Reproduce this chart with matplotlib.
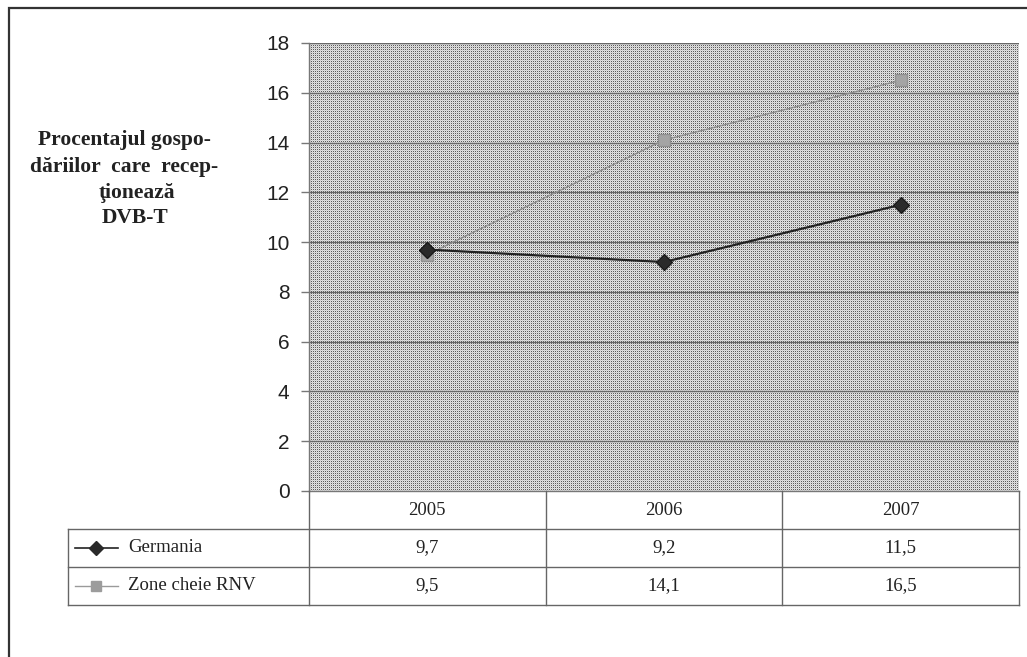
import numpy as np
import matplotlib
matplotlib.use("Agg")
import matplotlib.pyplot as plt
from matplotlib.patches import Rectangle

years = ["2005", "2006", "2007"]
germania = [9.7, 9.2, 11.5]
zone_rnv = [9.5, 14.1, 16.5]
series_names = ["Germania", "Zone cheie RNV"]
yticks = [0, 2, 4, 6, 8, 10, 12, 14, 16, 18]

W, H = 1027, 657
fig = plt.figure(figsize=(W / 100, H / 100), dpi=100)

# pixel box of the plot area and the data table
px_left, px_right, px_top, px_bottom = 309, 1019, 43, 491
tab_left, tab_bottom = 68, 605


def fbox(l, t, r, b):
    return [l / W, 1 - b / H, (r - l) / W, (b - t) / H]


# outer frame (runs off the right and bottom of the page)
fig.patches.append(Rectangle((9 / W, -0.1), 1.2, 1 - 8 / H + 0.1,
                             transform=fig.transFigure, fill=False,
                             edgecolor="#333333", linewidth=1.6))

ax = fig.add_axes(fbox(px_left, px_top, px_right, px_bottom))
x = np.arange(len(years))
ax.set_xlim(-0.5, len(years) - 0.5)
ax.set_ylim(0, 18)

# halftone-like dotted fill for the plot area
ph, pw = px_bottom - px_top, px_right - px_left
ii, jj = np.indices((ph, pw))
tex = np.where((ii % 2 == 0) & (jj % 2 == 0), 0.36, 0.88)
tex = np.where((ii % 2 == 1) & (jj % 2 == 1), 0.80, tex)
ax.imshow(tex, cmap="gray", vmin=0, vmax=1, extent=(-0.5, len(years) - 0.5, 0, 18),
          aspect="auto", interpolation="nearest", zorder=0)

for v in yticks[1:]:
    ax.axhline(v, color="#6a6a6a", linewidth=1.0, zorder=1)

ax.plot(x, zone_rnv, color="#8c8c8c", linewidth=1.0, marker="s", markersize=9,
        markerfacecolor="#a4a4a4", markeredgecolor="#909090", zorder=3)
ax.plot(x, germania, color="#222222", linewidth=1.6, marker="D", markersize=8,
        markerfacecolor="#2a2a2a", markeredgecolor="#1a1a1a", zorder=4)

ax.set_yticks(yticks)
ax.set_yticklabels([str(v) for v in yticks], fontsize=15, family="Liberation Sans",
                   color="#222222")
ax.tick_params(axis="y", length=6, width=1, color="#777777", pad=8)
ax.set_xticks([])
for side in ["top", "right", "bottom"]:
    ax.spines[side].set_visible(False)
ax.spines["left"].set_color("#777777")
ax.spines["left"].set_linewidth(1.0)

# data table under the plot, columns lined up with the x positions
tax = fig.add_axes(fbox(tab_left, px_bottom, px_right, tab_bottom))
colw = (px_right - px_left) / len(years)
xmin = -0.5 - (px_left - tab_left) / colw
tax.set_xlim(xmin, len(years) - 0.5)
tax.set_ylim(3, 0)
tax.axis("off")
lc, lw = "#666666", 1.0
tax.plot([-0.5, len(years) - 0.5], [0, 0], color="#777777", lw=lw, clip_on=False)
for yy in [1, 2, 3]:
    tax.plot([xmin, len(years) - 0.5], [yy, yy], color=lc, lw=lw, clip_on=False)
for xx in np.arange(len(years) + 1) - 0.5:
    tax.plot([xx, xx], [0, 3], color=lc, lw=lw, clip_on=False)
tax.plot([xmin, xmin], [1, 3], color=lc, lw=lw, clip_on=False)

serif = "Liberation Serif"
for i, yr in enumerate(years):
    tax.text(i, 0.52, yr, ha="center", va="center", fontsize=13.5, family=serif,
             color="#222222")
for row, vals in enumerate([germania, zone_rnv], start=1):
    for i, v in enumerate(vals):
        tax.text(i, row + 0.5, f"{v:.1f}".replace(".", ","), ha="center", va="center",
                 fontsize=13.5, family=serif, color="#222222")

# legend keys inside the table
kx0 = xmin + 7 / colw
kx1 = xmin + 50 / colw
kxm = xmin + 28 / colw
tax.plot([kx0, kx1], [1.5, 1.5], color="#222222", lw=1.2)
tax.plot([kxm], [1.5], marker="D", markersize=7, color="#2a2a2a")
tax.plot([kx0, kx1], [2.5, 2.5], color="#9a9a9a", lw=1.0)
tax.plot([kxm], [2.5], marker="s", markersize=7, color="#9c9c9c")
for row, name in enumerate(series_names, start=1):
    tax.text(xmin + 60 / colw, row + 0.5, name, ha="left", va="center",
             fontsize=13.5, family=serif, color="#222222")

# y axis caption
cap = dict(fontsize=15.5, family=serif, fontweight="bold", color="#222222")
fig.text(124 / W, 1 - 140 / H, "Procentajul gospo-", ha="center", va="center", **cap)
fig.text(124 / W, 1 - 167 / H, "dăriilor  care  recep-", ha="center", va="center", **cap)
fig.text(137 / W, 1 - 193 / H, "ţionează", ha="center", va="center", **cap)
fig.text(135 / W, 1 - 218 / H, "DVB-T", ha="center", va="center", **cap)

fig.savefig("out.png", dpi=100)
